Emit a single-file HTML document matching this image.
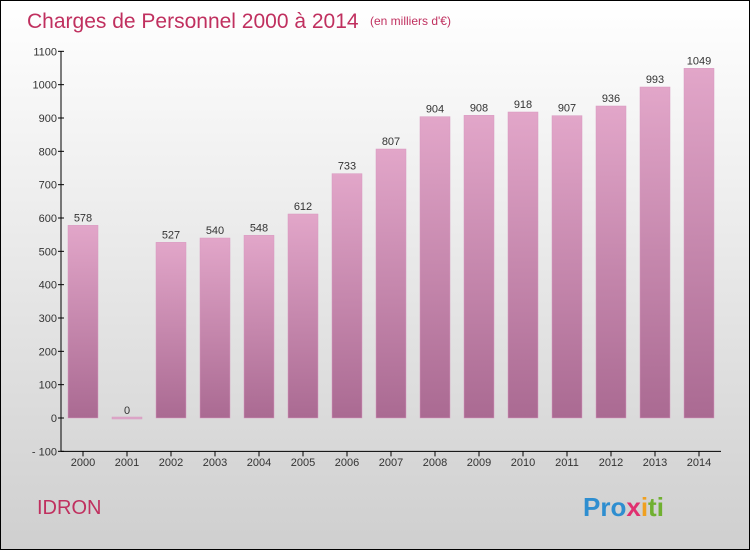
<!DOCTYPE html>
<html><head><meta charset="utf-8"><style>
body{margin:0}
#c{width:748px;height:548px;border:1px solid #000;background:linear-gradient(#ffffff,#cfcfcf);position:relative;font-family:"Liberation Sans",sans-serif;overflow:hidden}
</style></head><body>
<div id="c">
<svg id="s" width="748" height="548" style="position:absolute;left:0;top:0">
<defs><linearGradient id="g" x1="0" y1="0" x2="0" y2="1"><stop offset="0" stop-color="#e2a6c9"/><stop offset="1" stop-color="#aa6a92"/></linearGradient></defs>
<text x="26" y="27" font-size="21" fill="#c0305f">Charges de Personnel 2000 à 2014</text>
<text x="369" y="24" font-size="12" fill="#c0305f">(en milliers d'€)</text>
<text x="36" y="513" font-size="20" fill="#c0305f">IDRON</text>
<text x="582" y="515" font-size="26" font-weight="bold"><tspan fill="#2e8ed0">Pro</tspan><tspan fill="#e03070">x</tspan><tspan fill="#f0a020">i</tspan><tspan fill="#70b030">ti</tspan></text>
<g id="plot"></g>
</svg>
</div>
<script>
const years=["2000","2001","2002","2003","2004","2005","2006","2007","2008","2009","2010","2011","2012","2013","2014"];
const values=[578,0,527,540,548,612,733,807,904,908,918,907,936,993,1049];
const yTicks=[-100,0,100,200,300,400,500,600,700,800,900,1000,1100];
const NS="http://www.w3.org/2000/svg";
const g=document.getElementById('plot');
const y0=417, pxPer=400/1200;
function yS(v){return y0-v*pxPer;}
function xS(i){return 82+i*44;}
function el(t,a){const e=document.createElementNS(NS,t);for(const k in a)e.setAttribute(k,a[k]);g.appendChild(e);return e;}
const ax=el('line',{x1:60,y1:yS(1100),x2:60,y2:yS(-100),stroke:'#000'});


const xa=el('line',{x1:60,y1:yS(-100),x2:720,y2:yS(-100),stroke:'#000'});


yTicks.forEach(v=>{
 const l=el('line',{x1:57,y1:yS(v),x2:63,y2:yS(v),stroke:'#000'});
 
 
 const t=el('text',{x:56,y:yS(v)+4,'font-size':11,'text-anchor':'end',fill:'#333'});
 t.textContent=v<0?'- '+(-v):v;
 
 
});
years.forEach((yr,i)=>{
 const x=xS(i),v=values[i];
 const tk=el('line',{x1:x,y1:yS(-100),x2:x,y2:yS(-100)+5,stroke:'#000'});
 
 
 const t=el('text',{x:x,y:465,'font-size':11,'text-anchor':'middle',fill:'#333'});
 t.textContent=yr;
 
 
 const h=Math.max(v*pxPer,2);
 const b=el('rect',{x:x-15,y:yS(v)-(v===0?1:0),width:30,height:h,fill:v===0?'#dca8c8':'url(#g)',stroke:'#d898c0','stroke-width':0.5});
 
 
 const vl=el('text',{x:x,y:yS(v)-4,'font-size':11,'text-anchor':'middle',fill:'#333'});
 vl.textContent=v;
 
 
});
</script>
</body></html>
